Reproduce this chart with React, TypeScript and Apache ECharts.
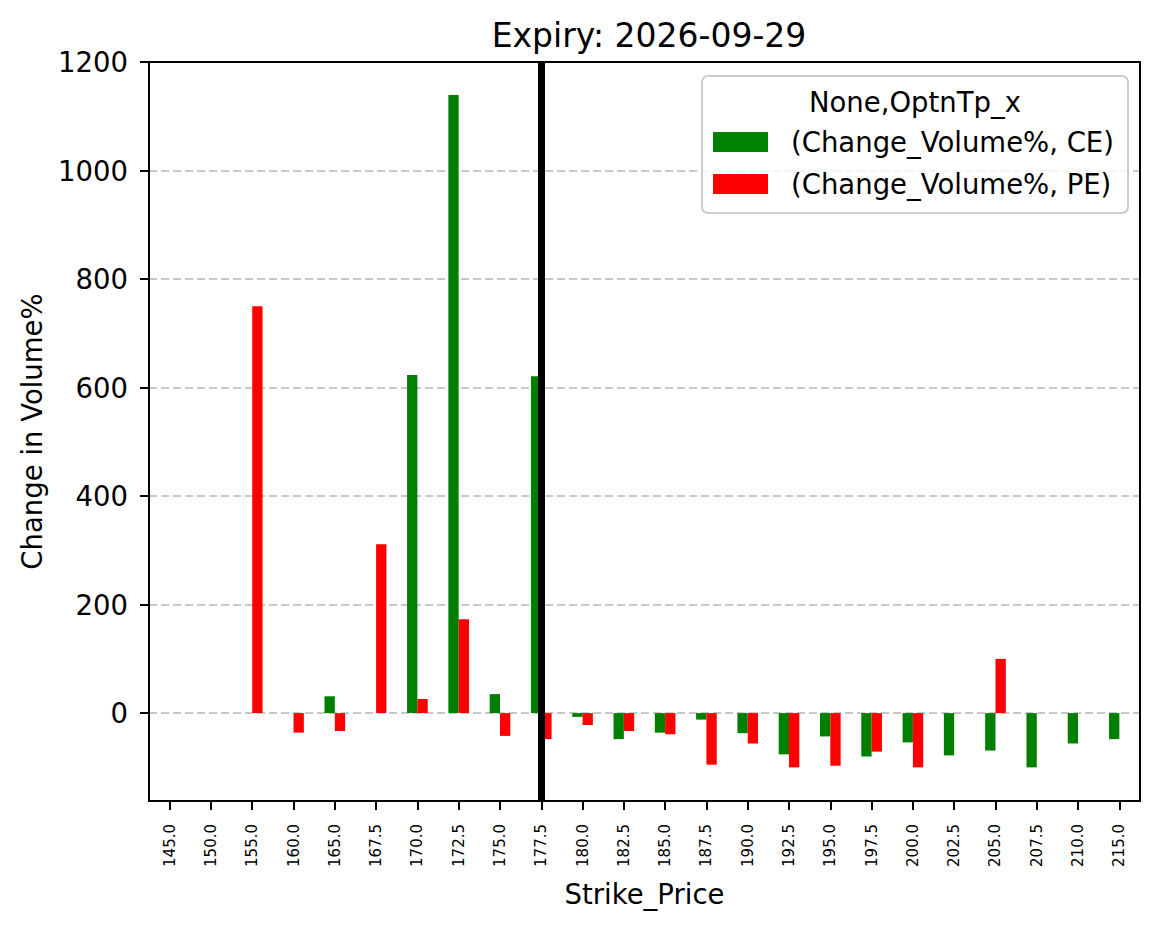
import React, { useEffect, useRef } from "react";
import * as echarts from "echarts";

const categories = ["145.0","150.0","155.0","160.0","165.0","167.5","170.0","172.5","175.0","177.5","180.0","182.5","185.0","187.5","190.0","192.5","195.0","197.5","200.0","202.5","205.0","207.5","210.0","215.0"];
const ceValues = [null, null, null, null, 31, null, 623, 1139, 35, 621, -7, -48, -36, -12, -37, -76, -43, -80, -54, -78, -69, -100, -56, -48];
const peValues = [null, null, 750, -36, -33, 311, 26, 173, -42, -48, -22, -33, -39, -95, -56, -100, -97, -71, -100, null, 100, null, null, null];
const spotStrike = "177.5";
const yTicks = [0, 200, 400, 600, 800, 1000, 1200];
const yMin = -162;
const yMax = 1200;

const FONT = "DejaVu Sans";

export default function App() {
  const ref = useRef<HTMLDivElement>(null);
  useEffect(() => {
    const chart = echarts.init(ref.current!, null, { renderer: "svg" });
    chart.setOption({
      animation: false,
      backgroundColor: "#ffffff",
      textStyle: { fontFamily: FONT, color: "#000" },
      title: {
        text: "Expiry: 2026-09-29",
        left: 644,
        top: 14,
        textAlign: "center",
        textStyle: { fontFamily: FONT, fontSize: 33, fontWeight: "normal", color: "#000" },
      },
      grid: {
        left: 149,
        right: 21,
        top: 62,
        bottom: 127,
        show: false,
      },
      legend: {
        orient: "vertical",
        left: 713,
        top: 127,
        padding: 0,
        itemWidth: 55,
        itemHeight: 20,
        itemGap: 12,
        icon: "rect",
        textStyle: { fontFamily: FONT, fontSize: 27.5, color: "#000", padding: [0, 0, 0, 18], lineHeight: 30 },
        data: ["(Change_Volume%, CE)", "(Change_Volume%, PE)"],
        z: 5,
      },
      graphic: [
        {
          type: "rect",
          z: 3,
          shape: { x: 702, y: 76, width: 426, height: 137, r: 6 },
          style: { fill: "rgba(255,255,255,0.8)", stroke: "#cccccc", lineWidth: 2 },
        },
        {
          type: "text",
          z: 4,
          x: 915,
          y: 102,
          style: {
            text: "None,OptnTp_x",
            fontFamily: FONT,
            fontSize: 27.5,
            fill: "#000",
            align: "center",
            verticalAlign: "middle",
          },
        },
        {
          type: "rect",
          z: 20,
          silent: true,
          shape: { x: 149, y: 62, width: 991, height: 739 },
          style: { fill: "none", stroke: "#000", lineWidth: 2 },
        },
      ],
      xAxis: {
        type: "category",
        data: categories,
        position: "bottom",
        name: "Strike_Price",
        nameLocation: "middle",
        nameGap: 79,
        nameMoveOverlap: false,
        nameTextStyle: { fontFamily: FONT, fontSize: 27.5, color: "#000" },
        axisLine: { show: true, onZero: false, lineStyle: { color: "#000", width: 2 } },
        axisTick: { show: true, inside: false, interval: 0, alignWithLabel: true, length: 9, lineStyle: { color: "#000", width: 2 } },
        axisLabel: { rotate: 90, fontSize: 15, fontFamily: FONT, color: "#000", margin: 23, interval: 0 },
        splitLine: { show: false },
      },
      yAxis: {
        type: "value",
        min: yMin,
        max: yMax,
        splitNumber: 7,
        name: "Change in Volume%",
        nameLocation: "middle",
        nameGap: 103,
        nameMoveOverlap: false,
        nameRotate: 90,
        nameTextStyle: { fontFamily: FONT, fontSize: 27.5, color: "#000" },
        axisLine: { show: true, onZero: false, lineStyle: { color: "#000", width: 2 } },
        axisTick: {
          show: true,
          length: 9,
          lineStyle: { color: "#000", width: 2 },
          customValues: yTicks,
        },
        axisLabel: {
          fontSize: 27.5,
          fontFamily: FONT,
          color: "#000",
          margin: 21,
          customValues: yTicks,
          formatter: (v: number) => (yTicks.includes(v) ? String(v) : ""),
        },
        splitLine: {
          show: true,
          lineStyle: { color: "#c8c8c8", width: 2, type: [8, 4] },
        },
      },
      series: [
        {
          name: "(Change_Volume%, CE)",
          type: "bar",
          data: ceValues,
          barWidth: "25%",
          barGap: "0%",
          itemStyle: { color: "#008000" },
          z: 2,
        },
        {
          name: "(Change_Volume%, PE)",
          type: "bar",
          data: peValues,
          barWidth: "25%",
          barGap: "0%",
          itemStyle: { color: "#ff0000" },
          z: 2,
        },
        {
          name: "spot",
          type: "line",
          data: [],
          silent: true,
          z: 10,
          markLine: {
            silent: true,
            symbol: "none",
            label: { show: false },
            lineStyle: { color: "#000", width: 7, type: "solid" },
            data: [{ xAxis: spotStrike }],
            z: 10,
          },
        },
      ],
    });
    return () => chart.dispose();
  }, []);
  return (
    <div
      ref={ref}
      style={{ position: "absolute", left: 0, top: 0, width: 1161, height: 928 }}
    />
  );
}
